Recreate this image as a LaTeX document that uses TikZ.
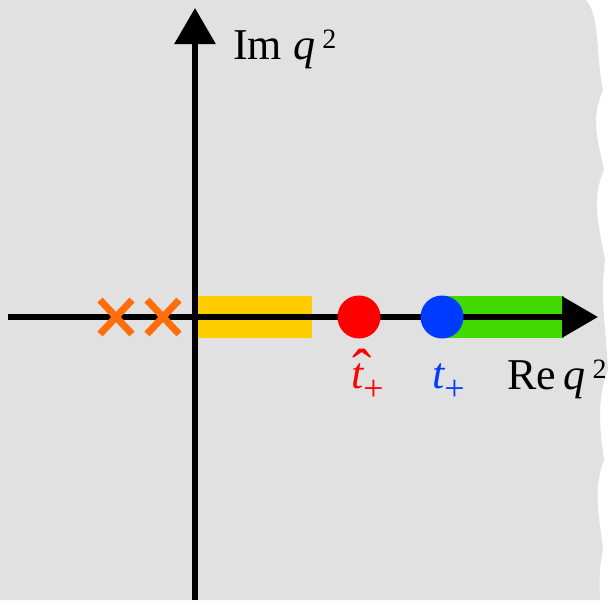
\documentclass[tikz,border=0pt]{standalone}
\usepackage{fontspec}
\setmainfont{Liberation Serif}
\usetikzlibrary{arrows.meta}
\definecolor{bggray}{RGB}{225,225,225}
\definecolor{cyellow}{RGB}{255,204,0}
\definecolor{cgreen}{RGB}{64,217,0}
\definecolor{corange}{RGB}{255,110,10}
\definecolor{cred}{RGB}{255,0,0}
\definecolor{cblue}{RGB}{0,60,255}
\tikzset{
  axis/.style={line width=6pt,-{Triangle[length=36pt,width=40pt]}},
  band/.style={inner sep=0pt,minimum height=42pt},
  pt/.style={circle,inner sep=0pt,minimum size=43pt},
  cross/.style={corange,line width=7pt},
  lbl/.style={inner sep=0pt,font=\fontsize{44}{44}\selectfont}
}
\newcommand{\supb}[1]{\raisebox{0.24em}{\fontsize{28}{28}\selectfont #1}}
\newcommand{\subb}[1]{\kern-1pt\raisebox{-12pt}{\fontsize{36}{36}\selectfont #1}}
\newcommand{\hatt}{\rlap{\hspace{1pt}\raisebox{-1pt}{\fontsize{58}{58}\selectfont ˆ}}\textit{t}}
\begin{document}
\begin{tikzpicture}[x=1pt,y=-1pt]
\useasboundingbox (0,0) rectangle (616,600);
\fill[white] (0,0) rectangle (616,600);
\fill[bggray] (0,0) -- (585,0) .. controls (600,10) and (596,60) .. (603,90)
  .. controls (590,120) and (598,140) .. (604,170)
  .. controls (590,200) and (600,230) .. (605,260)
  .. controls (600,300) and (606,330) .. (608,370)
  .. controls (596,400) and (600,430) .. (604,460)
  .. controls (592,490) and (600,520) .. (603,550)
  .. controls (598,570) and (600,590) .. (600,600) -- (0,600) -- cycle;
% bands
\node[band,fill=cyellow,minimum width=114pt] (yb) at (255,317) {};
\node[band,fill=cgreen,minimum width=122pt] (gb) at (503,317) {};
% axes
\coordinate (xl) at (8,317);
\coordinate (xr) at (598,317);
\coordinate (yb0) at (195,600);
\coordinate (yt) at (195,8);
\draw[axis] (xl) -- (xr);
\draw[axis] (yb0) -- (yt);
% points
\node[pt,fill=cred] (th) at (359,317) {};
\node[pt,fill=cblue] (tp) at (442,317) {};
% crosses
\coordinate (c1) at (116,317);
\coordinate (c2) at (163,317);
\draw[cross] ([shift={(-16,-17)}]c1) -- ([shift={(16,17)}]c1);
\draw[cross] ([shift={(-16,17)}]c1) -- ([shift={(16,-17)}]c1);
\draw[cross] ([shift={(-16,-17)}]c2) -- ([shift={(16,17)}]c2);
\draw[cross] ([shift={(-16,17)}]c2) -- ([shift={(16,-17)}]c2);
% labels
\node[lbl,anchor=base west] (im) at (233,59) {Im \textit{q}\,\supb{2}};
\node[lbl,anchor=base west] (re) at (507,389) {Re\,\textit{q}\,\supb{2}};
\node[lbl,anchor=base west,text=cred] (lth) at (351,388) {\hatt\subb{+}};
\node[lbl,anchor=base west,text=cblue] (ltp) at (432,388) {\textit{t}\subb{+}};
\end{tikzpicture}
\end{document}
